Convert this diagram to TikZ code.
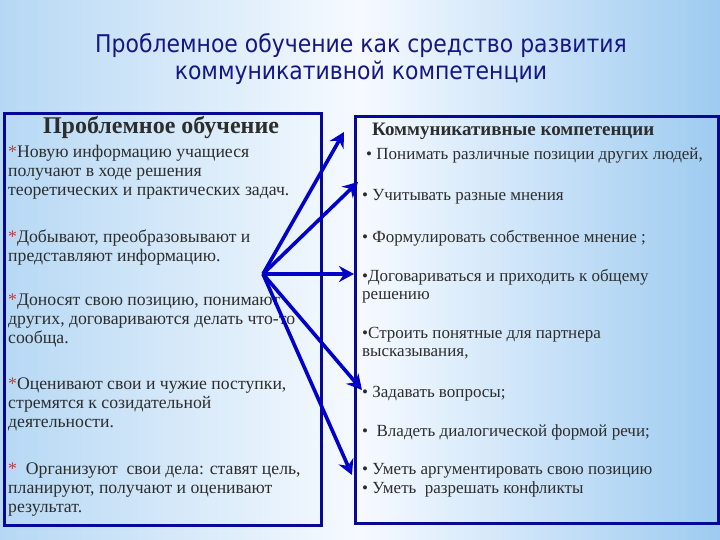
\documentclass[tikz,border=0pt]{standalone}
\usepackage{fontspec}
\setmainfont{Liberation Serif}
\newfontfamily\titlefont{DejaVu Sans Condensed}
\usetikzlibrary{arrows.meta}
\definecolor{bgblueL}{RGB}{182,216,244}
\definecolor{bgblueR}{RGB}{158,203,240}
\definecolor{bgwhite}{RGB}{246,250,255}
\definecolor{navytitle}{RGB}{22,22,135}
\definecolor{boxblue}{RGB}{8,8,150}
\definecolor{arrowblue}{RGB}{0,0,200}
\definecolor{txtgray}{RGB}{45,45,45}
\definecolor{starred}{RGB}{200,55,55}
\newcommand{\rstar}{{\color{starred}*}}
\tikzset{
  boxframe/.style={draw=boxblue, line width=3pt, anchor=north west, inner sep=0pt, fill=none},
  ltxt/.style={anchor=base west, inner sep=0pt, text=txtgray, font=\fontsize{17.7}{20}\selectfont},
  rtxt/.style={anchor=base west, inner sep=0pt, text=txtgray, font=\fontsize{17}{20}\selectfont},
  ttl/.style={anchor=base, inner sep=0pt, text=navytitle, font=\titlefont\fontsize{24.4}{27}\selectfont},
  arr/.style={draw=arrowblue, line width=3.6pt, -{Stealth[length=15pt,width=16pt,inset=5pt]}}
}
\begin{document}
\begin{tikzpicture}[x=1pt,y=-1pt]
\shade[left color=bgblueL, right color=bgblueR, middle color=bgwhite] (0,0) rectangle (720,540);
\useasboundingbox (0,0) rectangle (720,540);

% main title
\node[ttl] (t1) at (361,53) {Проблемное обучение как средство развития};
\node[ttl] (t2) at (361,80) {коммуникативной компетенции};

% boxes
\node[boxframe, minimum width=317pt, minimum height=412pt] (lbox) at (3,112) {};
\node[boxframe, minimum width=363pt, minimum height=407pt] (rbox) at (354,115) {};

% left box text
\node[anchor=base, inner sep=0pt, text=txtgray, font=\bfseries\fontsize{24}{27}\selectfont] (lt) at (161,134) {Проблемное обучение};
\node[ltxt] (p1a) at (8,158) {\rstar Новую информацию учащиеся};
\node[ltxt] (p1b) at (8,177) {получают в ходе решения};
\node[ltxt] (p1c) at (8,196) {теоретических и практических задач.};
\node[ltxt] (p2a) at (8,242) {\rstar Добывают, преобразовывают и};
\node[ltxt] (p2b) at (8,261) {представляют информацию.};
\node[ltxt] (p3a) at (8,305) {\rstar Доносят свою позицию, понимают};
\node[ltxt] (p3b) at (8,324) {других, договариваются делать что-то};
\node[ltxt] (p3c) at (8,343) {сообща.};
\node[ltxt] (p4a) at (8,389) {\rstar Оценивают свои и чужие поступки,};
\node[ltxt] (p4b) at (8,408) {стремятся к созидательной};
\node[ltxt] (p4c) at (8,427) {деятельности.};
\node[ltxt] (p5a) at (8,474) {\rstar\ \ Организуют\ \ свои дела: ставят цель,};
\node[ltxt] (p5b) at (8,493) {планируют, получают и оценивают};
\node[ltxt] (p5c) at (8,512) {результат.};

% right box text
\node[anchor=base west, inner sep=0pt, text=txtgray, font=\bfseries\fontsize{19}{22}\selectfont] (rt) at (372,136) {Коммуникативные компетенции};
\node[rtxt] (r1) at (366,160) {•\ Понимать различные позиции других людей,};
\node[rtxt] (r2) at (362,201) {•\ Учитывать разные мнения};
\node[rtxt] (r3) at (362,242) {•\ Формулировать собственное мнение ;};
\node[rtxt] (r4a) at (362,281) {•Договариваться и приходить к общему};
\node[rtxt] (r4b) at (362,299) {решению};
\node[rtxt] (r5a) at (362,338) {•Строить понятные для партнера};
\node[rtxt] (r5b) at (362,356) {высказывания,};
\node[rtxt] (r6) at (362,397) {•\ Задавать вопросы;};
\node[rtxt] (r7) at (362,436) {•\ \ Владеть диалогической формой речи;};
\node[rtxt] (r8a) at (362,474) {•\ Уметь аргументировать свою позицию};
\node[rtxt] (r8b) at (362,493) {•\ Уметь\ \ разрешать конфликты};

% arrows
\coordinate (src) at (263,274);
\coordinate (a1) at (344,132);
\coordinate (a2) at (358,182);
\coordinate (a3) at (354,274);
\coordinate (a4) at (362,390);
\coordinate (a5) at (352,475);
\draw[arr] (src) -- (a1);
\draw[arr] (src) -- (a2);
\draw[arr] (src) -- (a3);
\draw[arr] (src) -- (a4);
\draw[arr] (src) -- (a5);
\end{tikzpicture}
\end{document}
